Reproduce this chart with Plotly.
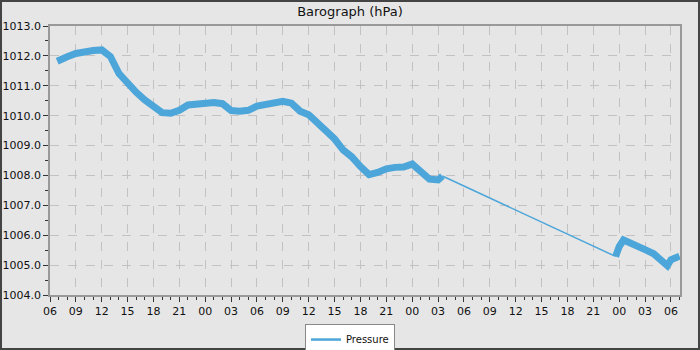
import plotly.graph_objects as go

times_a = ["2024-01-01 06:50", "2024-01-01 07:00", "2024-01-01 08:00", "2024-01-01 09:00",
           "2024-01-01 10:00", "2024-01-01 11:00", "2024-01-01 12:00", "2024-01-01 13:00",
           "2024-01-01 14:00", "2024-01-01 15:00", "2024-01-01 16:00", "2024-01-01 17:00",
           "2024-01-01 18:00", "2024-01-01 19:00", "2024-01-01 20:00", "2024-01-01 21:00",
           "2024-01-01 22:00", "2024-01-01 23:00", "2024-01-02 00:00", "2024-01-02 01:00",
           "2024-01-02 02:00", "2024-01-02 03:00", "2024-01-02 04:00", "2024-01-02 05:00",
           "2024-01-02 06:00", "2024-01-02 07:00", "2024-01-02 08:00", "2024-01-02 09:00",
           "2024-01-02 10:00", "2024-01-02 11:00", "2024-01-02 12:00", "2024-01-02 13:00",
           "2024-01-02 14:00", "2024-01-02 15:00", "2024-01-02 16:00", "2024-01-02 17:00",
           "2024-01-02 18:00", "2024-01-02 19:00", "2024-01-02 20:00", "2024-01-02 21:00",
           "2024-01-02 22:00", "2024-01-02 23:00", "2024-01-03 00:00", "2024-01-03 01:00",
           "2024-01-03 02:00", "2024-01-03 03:00", "2024-01-03 03:30"]
pressure_a = [1011.82, 1011.85, 1011.97, 1012.08, 1012.15, 1012.18, 1012.20, 1011.98,
              1011.41, 1011.08, 1010.78, 1010.52, 1010.32, 1010.10, 1010.08, 1010.18,
              1010.36, 1010.38, 1010.41, 1010.44, 1010.40, 1010.17, 1010.15, 1010.18,
              1010.32, 1010.36, 1010.45, 1010.48, 1010.42, 1010.15, 1010.03, 1009.78,
              1009.50, 1009.22, 1008.85, 1008.62, 1008.30, 1008.03, 1008.10, 1008.22,
              1008.27, 1008.28, 1008.38, 1008.12, 1007.88, 1007.85, 1007.98]

times_b = ["2024-01-03 23:35", "2024-01-04 00:00", "2024-01-04 00:30", "2024-01-04 01:00",
           "2024-01-04 02:00", "2024-01-04 03:00", "2024-01-04 04:00", "2024-01-04 05:00",
           "2024-01-04 05:35", "2024-01-04 06:00", "2024-01-04 07:00"]
pressure_b = [1005.29, 1005.62, 1005.84, 1005.78, 1005.70, 1005.52, 1005.38, 1005.08,
              1004.98, 1005.18, 1005.30]

title_text = "Barograph (hPa)"
series_name = "Pressure"
x_range = ["2024-01-01 06:00", "2024-01-04 07:03"]
y_range = [1004.0, 1013.0]

line_color = "#4da6d9"

fig = go.Figure()

# recorded segments (thick, noisy band look)
fig.add_trace(go.Scatter(
    x=times_a + [None] + times_b,
    y=pressure_a + [None] + pressure_b,
    mode="lines", name=series_name,
    line=dict(color=line_color, width=7),
    connectgaps=False, showlegend=False,
))
# gap in recording, joined by a straight line
fig.add_trace(go.Scatter(
    x=[times_a[-1], times_b[0]],
    y=[pressure_a[-1], pressure_b[0]],
    mode="lines", name=series_name,
    line=dict(color=line_color, width=1.5),
    showlegend=False,
))
# legend entry
fig.add_trace(go.Scatter(
    x=[None], y=[None], mode="lines", name=series_name,
    line=dict(color=line_color, width=2.5),
))

axis_font = dict(family="DejaVu Sans", size=11, color="#111")
fig.update_layout(
    width=700, height=350,
    margin=dict(l=50, r=20, t=26, b=55, autoexpand=False),
    paper_bgcolor="#e6e6e6", plot_bgcolor="#e6e6e6",
    font=dict(family="DejaVu Sans", size=11, color="#111"),
    title=dict(text=title_text, x=0.5, xanchor="center", y=1 - 11.5 / 350,
               yanchor="middle", yref="container",
               font=dict(family="DejaVu Sans", size=13, color="#111")),
    showlegend=True,
    legend=dict(orientation="h", x=(350 - 50) / 630, xanchor="center", y=-0.108,
                yanchor="top",
                bgcolor="#ffffff", bordercolor="#888888", borderwidth=1,
                itemwidth=30, font=dict(family="DejaVu Sans", size=10, color="#111")),
    xaxis=dict(
        type="date", range=x_range, dtick=3 * 3600 * 1000, tick0="2024-01-01 06:00",
        tickformat="%H", tickfont=axis_font, ticks="outside", ticklen=5,
        tickcolor="#333", showgrid=True, gridcolor="#c2c2c2", griddash="dash",
        gridwidth=1, showline=True, linecolor="#999999", linewidth=1.5, mirror=True,
        zeroline=False, automargin=False,
        minor=dict(dtick=3600 * 1000, ticks="outside", ticklen=3, tickcolor="#333",
                   showgrid=False),
    ),
    yaxis=dict(
        range=y_range, dtick=1, tick0=1004, tickformat=".1f", tickfont=axis_font,
        ticks="outside", ticklen=5, tickcolor="#333", showgrid=True,
        gridcolor="#c2c2c2", griddash="dash", gridwidth=1, showline=True,
        linecolor="#999999", linewidth=1.5, mirror=True, zeroline=False,
        automargin=False,
        minor=dict(dtick=0.5, ticks="outside", ticklen=3, tickcolor="#333",
                   showgrid=False),
    ),
)

# outer dark frame of the picture
fig.add_shape(type="rect", xref="paper", yref="paper",
              x0=-50 / 630 + 0.0016, x1=1 + 20 / 630 - 0.0016,
              y0=-55 / 269 + 0.0037, y1=1 + 26 / 269 - 0.0037,
              line=dict(color="#444444", width=2), fillcolor="rgba(0,0,0,0)",
              layer="above")

fig.write_html("out.html", config={"displayModeBar": False},
               post_script="document.body.style.margin='0';")
